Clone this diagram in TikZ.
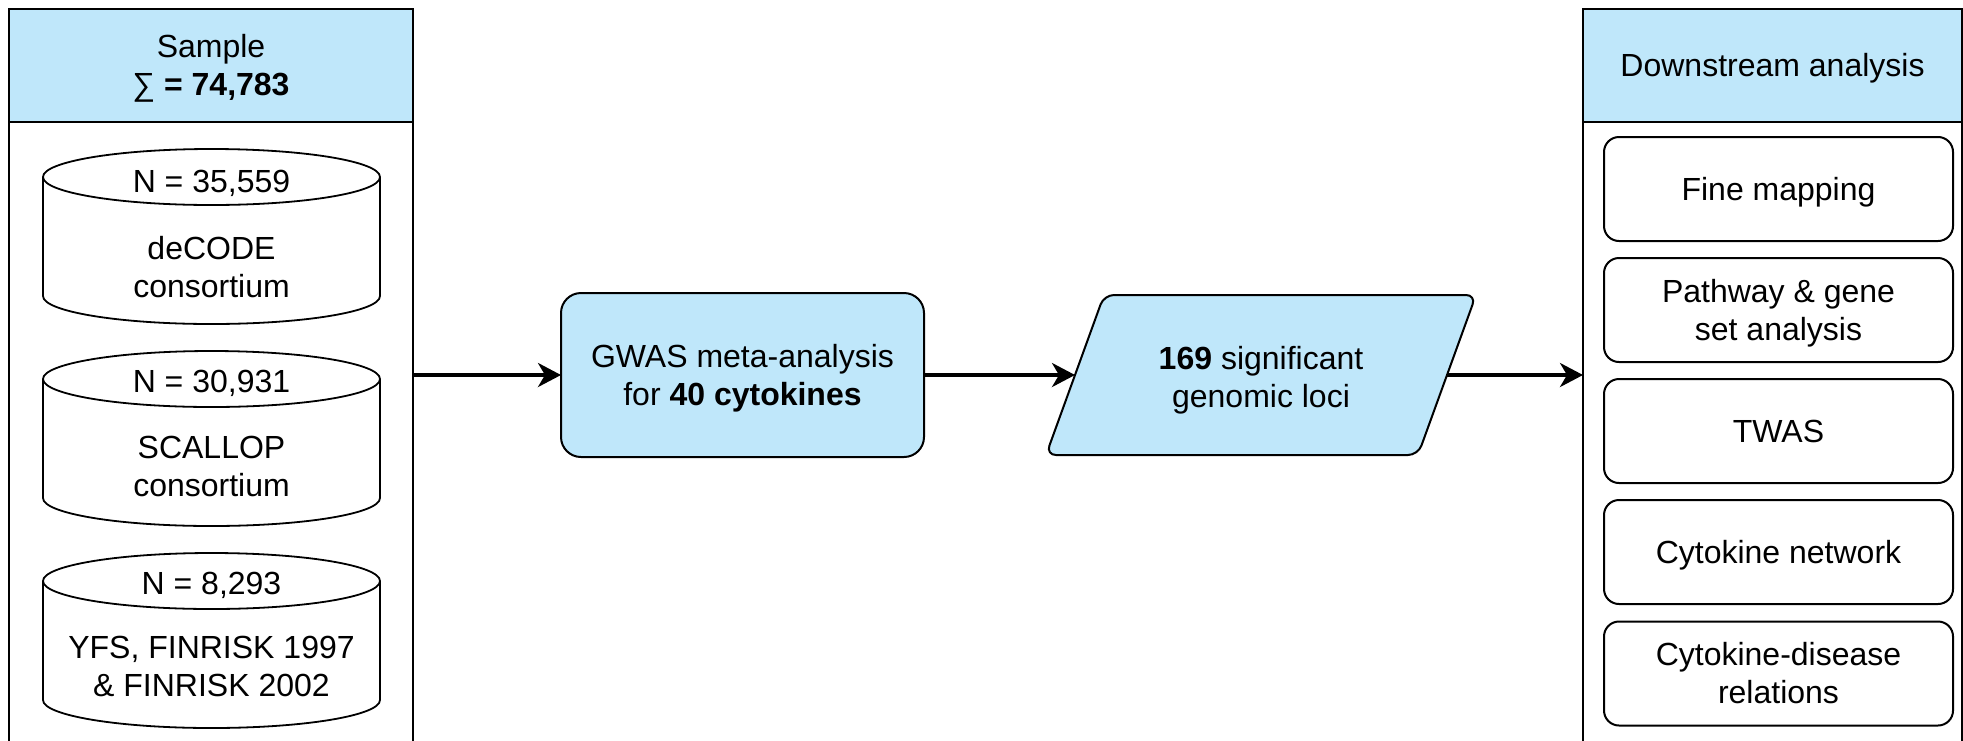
\documentclass[tikz,border=0pt]{standalone}
\usepackage{fontspec}
\setmainfont{Liberation Sans}
\usetikzlibrary{arrows.meta}
\definecolor{hdrblue}{RGB}{191,231,250}
\newcommand\ls{\rule[-0.212em]{0pt}{1.117em}}
\begin{document}
\begin{tikzpicture}[x=0.5pt,y=-0.5pt,
  every node/.style={font=\fontsize{16}{19}\selectfont, inner sep=0pt, outer sep=0pt},
  panel/.style={draw, line width=1pt, rectangle, fill=white},
  hdr/.style={draw, line width=1pt, fill=hdrblue, rectangle, align=center},
  bluebox/.style={draw, line width=1pt, fill=hdrblue, rounded corners=10pt},
  itembox/.style={draw, line width=1pt, fill=white, rounded corners=7.5pt, minimum width=174.5pt, minimum height=52pt, align=center},
  cyl/.style={draw, line width=0.9pt, fill=white},
  lbl/.style={align=center},
  arr/.style={line width=1.75pt, -{Stealth[length=11.5pt, width=12pt, inset=3.5pt]}},
  cylpic/.pic={
    \draw[cyl] (-168.5,0) -- (-168.5,119) arc[start angle=180, end angle=360, x radius=84.25pt, y radius=14pt] -- (168.5,0);
    \draw[cyl] (0,0) ellipse[x radius=84.25pt, y radius=14pt];
  }
]
\useasboundingbox (0,0) rectangle (1963,740);
\fill[white] (0,0) rectangle (1963,740);

% left panel
\node[panel, minimum width=202pt, minimum height=375.5pt] (samplepanel) at (211,384.5) {};
\node[hdr, minimum width=202pt, minimum height=56.5pt] (samplehead) at (211,65.5) {\ls Sample\\∑ \textbf{= 74,783}\ls};

\pic at (211.5,177) {cylpic};
\node (nA) at (211.5,181) {\ls N = 35,559};
\node[lbl] (dA) at (211.5,267) {\ls deCODE\\consortium\ls};

\pic at (211.5,379) {cylpic};
\node (nB) at (211.5,381) {\ls N = 30,931};
\node[lbl] (dB) at (211.5,466) {\ls SCALLOP\\consortium\ls};

\pic at (211.5,581) {cylpic};
\node (nC) at (211.5,583) {\ls N = 8,293};
\node[lbl] (dC) at (211.5,666) {\ls YFS, FINRISK 1997\\\& FINRISK 2002\ls};

% middle
\node[bluebox, minimum width=181.5pt, minimum height=82pt, lbl] (gwas) at (742.5,375) {\ls GWAS meta-analysis\\for \textbf{40 cytokines}\ls};

\draw[bluebox, rounded corners=5pt] (1104,295) -- (1476,295) -- (1418,455) -- (1046,455) -- cycle;
\coordinate (lociL) at (1075,375);
\coordinate (lociR) at (1447,375);
\node[lbl] (loci) at (1261,377) {\ls\textbf{169} significant\\genomic loci\ls};

% right panel
\node[panel, minimum width=189.5pt, minimum height=375.5pt] (downpanel) at (1772.5,384.5) {};
\node[hdr, minimum width=189.5pt, minimum height=56.5pt] (downhead) at (1772.5,65.5) {\ls Downstream analysis};

\node[itembox] (fine) at (1778.5,189) {\ls Fine mapping};
\node[itembox] (pathw) at (1778.5,310) {\ls Pathway \& gene\\set analysis\ls};
\node[itembox] (twas) at (1778.5,431) {\ls TWAS};
\node[itembox] (net) at (1778.5,552) {\ls Cytokine network};
\node[itembox] (dis) at (1778.5,673.5) {\ls Cytokine-disease\\relations\ls};

% connectors
\draw[arr] (samplepanel.east |- gwas.west) -- (gwas.west);
\draw[arr] (gwas.east) -- (lociL);
\draw[arr] (lociR) -- (downpanel.west |- lociR);
\end{tikzpicture}
\end{document}
